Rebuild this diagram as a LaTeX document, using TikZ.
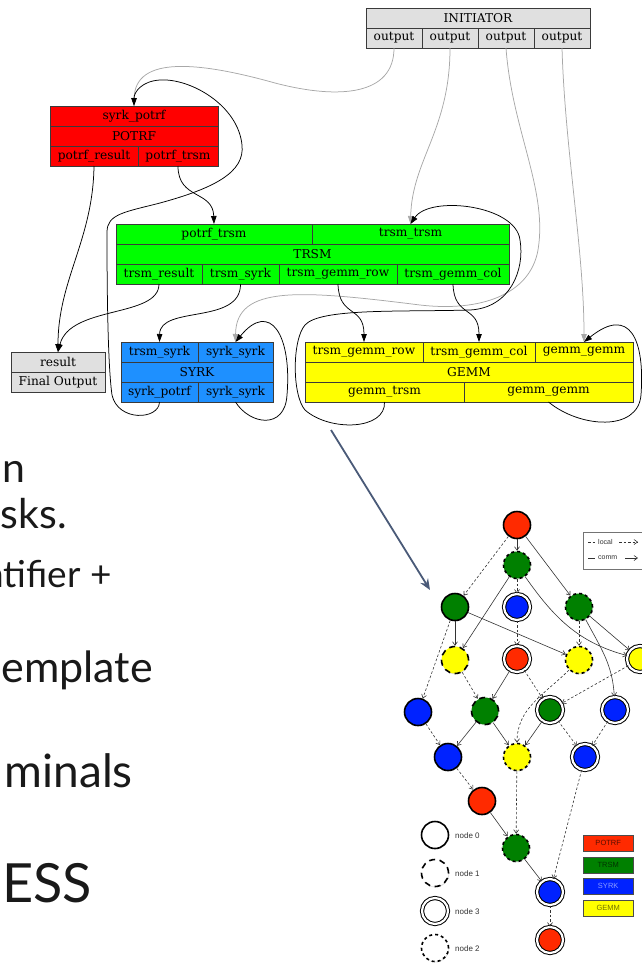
\documentclass[tikz,border=0pt]{standalone}
\usepackage{fontspec}
\setmainfont{DejaVu Serif}
\newfontfamily\slidefont{Lato}
\newfontfamily\legendfont{Liberation Sans}
\usetikzlibrary{arrows.meta,shadows}

\definecolor{potrfc}{HTML}{FF0000}
\definecolor{trsmc}{HTML}{00FF00}
\definecolor{syrkc}{HTML}{1E90FF}
\definecolor{gemmc}{HTML}{FFFF00}
\definecolor{greyc}{HTML}{E0E0E0}
\definecolor{cellline}{HTML}{3A3A3A}
\definecolor{edgegrey}{HTML}{A8A8A8}
\definecolor{pointer}{HTML}{4A5A78}
\definecolor{dagred}{HTML}{FF2A00}
\definecolor{daggreen}{HTML}{008000}
\definecolor{dagblue}{HTML}{0022FF}
\definecolor{dagyellow}{HTML}{FFFF00}
\definecolor{dagline}{HTML}{333333}

\tikzset{
  cell/.style={draw=cellline, line width=0.75pt, inner sep=0pt, outer sep=0pt,
    minimum height=20pt, anchor=north west, font=\fontsize{12.2}{13}\selectfont},
  gvedge/.style={draw=black, line width=0.75pt, -{Triangle[length=8pt,width=5.5pt]}},
  gvgrey/.style={gvedge, draw=edgegrey},
  task/.style={circle, inner sep=0pt, minimum size=27pt,
    drop shadow={shadow xshift=0.7pt, shadow yshift=-0.9pt, opacity=0.25}},
  rank0/.style={task, draw=black, line width=1.6pt},
  rank1/.style={task, draw=black, line width=1.6pt, dash pattern=on 6pt off 4.5pt},
  rank2/.style={task, draw=black, line width=1.6pt, dash pattern=on 3pt off 3pt},
  rank3/.style={task, minimum size=26pt, draw=black, line width=1pt, double=white, double distance=2.2pt},
  comm/.style={draw=dagline, line width=0.6pt, -{Straight Barb[length=3.5pt,width=5pt]}},
  local/.style={comm, dash pattern=on 2.5pt off 2pt},
  slide/.style={anchor=base east, inner sep=0pt, text=black!90},
  kind/.style={draw=black!70, line width=0.4pt, minimum width=50pt, minimum height=15.5pt,
    inner sep=0pt, anchor=north west, font=\legendfont\fontsize{7.5}{8}\selectfont,
    drop shadow={shadow xshift=1pt, shadow yshift=-1pt, opacity=0.3}},
  caption/.style={anchor=west, inner sep=0pt, font=\legendfont\fontsize{8}{9}\selectfont, text=black!80}
}

\begin{document}
\begin{tikzpicture}[x=1pt,y=-1pt]
\useasboundingbox (0,0) rectangle (642,964);

% ---------------- task-class graph ----------------
% INITIATOR
\node[cell, fill=greyc, minimum width=224pt] (init) at (366,8) {INITIATOR};
\node[cell, fill=greyc, minimum width=56pt] (out1) at (366,28) {output};
\node[cell, fill=greyc, minimum width=56pt] (out2) at (422,28) {output};
\node[cell, fill=greyc, minimum width=56pt] (out3) at (478,28) {output};
\node[cell, fill=greyc, minimum width=56pt] (out4) at (534,28) {output};

% POTRF
\node[cell, fill=potrfc, minimum width=168pt] (potrfin) at (50,106) {syrk\_potrf};
\node[cell, fill=potrfc, minimum width=168pt] (potrfname) at (50,126) {POTRF};
\node[cell, fill=potrfc, minimum width=88pt] (potrfres) at (50,146) {potrf\_result};
\node[cell, fill=potrfc, minimum width=80pt] (potrftrsm) at (138,146) {potrf\_trsm};

% TRSM
\node[cell, fill=trsmc, minimum width=196pt] (trsmin1) at (116,224) {potrf\_trsm};
\node[cell, fill=trsmc, minimum width=197pt] (trsmin2) at (312,224) {trsm\_trsm};
\node[cell, fill=trsmc, minimum width=393pt] (trsmname) at (116,244) {TRSM};
\node[cell, fill=trsmc, minimum width=86pt] (trsmo1) at (116,264) {trsm\_result};
\node[cell, fill=trsmc, minimum width=77pt] (trsmo2) at (202,264) {trsm\_syrk};
\node[cell, fill=trsmc, minimum width=118pt] (trsmo3) at (279,264) {trsm\_gemm\_row};
\node[cell, fill=trsmc, minimum width=112pt] (trsmo4) at (397,264) {trsm\_gemm\_col};

% result
\node[cell, fill=greyc, minimum width=94pt] (result) at (11,352) {result};
\node[cell, fill=greyc, minimum width=94pt] (final) at (11,372) {Final Output};

% SYRK
\node[cell, fill=syrkc, minimum width=77pt] (syrki1) at (121,342) {trsm\_syrk};
\node[cell, fill=syrkc, minimum width=75pt] (syrki2) at (198,342) {syrk\_syrk};
\node[cell, fill=syrkc, minimum width=152pt] (syrkname) at (121,362) {SYRK};
\node[cell, fill=syrkc, minimum width=77pt] (syrko1) at (121,382) {syrk\_potrf};
\node[cell, fill=syrkc, minimum width=75pt] (syrko2) at (198,382) {syrk\_syrk};

% GEMM
\node[cell, fill=gemmc, minimum width=118pt] (gemmi1) at (305,342) {trsm\_gemm\_row};
\node[cell, fill=gemmc, minimum width=112pt] (gemmi2) at (423,342) {trsm\_gemm\_col};
\node[cell, fill=gemmc, minimum width=98pt] (gemmi3) at (535,342) {gemm\_gemm};
\node[cell, fill=gemmc, minimum width=328pt] (gemmname) at (305,362) {GEMM};
\node[cell, fill=gemmc, minimum width=159pt] (gemmo1) at (305,382) {gemm\_trsm};
\node[cell, fill=gemmc, minimum width=169pt] (gemmo2) at (464,382) {gemm\_gemm};

% flows from the initiator (grey)
\draw[gvgrey] (out1.south) .. controls (394,95) and (340,100) .. (275,83)
  .. controls (200,62) and (135,55) .. (potrfin.north);
\draw[gvgrey] (out2.south) .. controls (450,130) and (412,160) .. (trsmin2.north);
\draw[gvgrey] (out3.south) .. controls (512,130) and (548,190) .. (538,250)
  .. controls (530,295) and (480,312) .. (420,305)
  .. controls (300,290) and (236,285) .. (syrki2.north);
\draw[gvgrey] (out4.south) .. controls (565,150) and (584,250) .. (gemmi3.north);

% data flows between task classes
\draw[gvedge] (potrftrsm.south) .. controls (178,200) and (213,190) .. (trsmin1.north);
\draw[gvedge] (potrfres.south) .. controls (93,240) and (58,280) .. (result.north);
\draw[gvedge] (trsmo1.south) .. controls (159,318) and (70,305) .. (result.north);
\draw[gvedge] (trsmo2.south) .. controls (241,325) and (160,305) .. (syrki1.north);
\draw[gvedge] (trsmo3.south) .. controls (339,318) and (364,305) .. (gemmi1.north);
\draw[gvedge] (trsmo4.south) .. controls (454,318) and (479,305) .. (gemmi2.north);
\draw[gvedge] (syrko1.south) .. controls (159,420) and (118,422) .. (112,395)
  .. controls (107,360) and (107,260) .. (107,232)
  .. controls (107,214) and (125,212) .. (160,203)
  .. controls (215,188) and (245,172) .. (242,145)
  .. controls (238,105) and (190,78) .. (160,80)
  .. controls (142,81) and (134,92) .. (potrfin.north);
\draw[gvedge] (syrko2.south) .. controls (250,425) and (285,430) .. (287,395)
  .. controls (292,335) and (270,300) .. (syrki2.north);
\draw[gvedge] (gemmo1.south) .. controls (386,430) and (330,432) .. (305,410)
  .. controls (292,395) and (292,340) .. (305,325)
  .. controls (320,308) and (400,312) .. (470,310)
  .. controls (510,308) and (525,270) .. (520,240)
  .. controls (516,205) and (430,195) .. (trsmin2.north);
\draw[gvedge] (gemmo2.south) .. controls (580,428) and (638,432) .. (641,395)
  .. controls (645,340) and (630,305) .. (gemmi3.north);

% ---------------- pointer to the unrolled DAG ----------------
\coordinate (ptrfrom) at (331,430);
\coordinate (ptrto) at (430,590);
\draw[pointer, line width=1.8pt, -{Stealth[length=11pt,width=9pt]}] (ptrfrom) -- (ptrto);

% ---------------- slide text ----------------
\node[slide, font=\slidefont\fontsize{41}{44}\selectfont] (t1) at (26,482) {an};
\node[slide, font=\slidefont\fontsize{41}{44}\selectfont] (t2) at (67,528) {sks.};
\node[slide, font=\slidefont\fontsize{37}{40}\selectfont] (t3) at (112,587) {ntifier +};
\node[slide, font=\slidefont\fontsize{43}{46}\selectfont] (t4) at (153,682) {emplate};
\node[slide, font=\slidefont\fontsize{46}{48}\selectfont] (t5) at (133,787) {minals};
\node[slide, font=\slidefont\fontsize{54}{56}\selectfont] (t6) at (92,902) {ESS};

% ---------------- unrolled task DAG ----------------
\node[rank0, fill=dagred] (A) at (517,525) {};
\node[rank2, fill=daggreen] (B) at (517,565) {};
\node[rank0, fill=daggreen] (C) at (455,607) {};
\node[rank3, fill=dagblue] (D) at (517,607) {};
\node[rank2, fill=daggreen] (E) at (579,607) {};
\node[rank1, fill=dagyellow] (F) at (455,660) {};
\node[rank3, fill=dagred] (H) at (517,659) {};
\node[rank2, fill=dagyellow] (G) at (579,660) {};
\node[rank3, fill=dagyellow] (I) at (640,659) {};
\node[rank0, fill=dagblue] (J) at (418,712) {};
\node[rank1, fill=daggreen] (K) at (485,711) {};
\node[rank3, fill=daggreen] (L) at (550,710) {};
\node[rank3, fill=dagblue] (M) at (615,710) {};
\node[rank0, fill=dagblue] (N) at (448,757) {};
\node[rank2, fill=dagyellow] (O) at (517,757) {};
\node[rank3, fill=dagblue] (P) at (585,757) {};
\node[rank0, fill=dagred] (Q) at (482,801) {};
\node[rank2, fill=daggreen] (R) at (516,848) {};
\node[rank3, fill=dagblue] (S) at (550,892) {};
\node[rank3, fill=dagred] (T) at (550,940) {};

\draw[comm] (A) -- (B);
\draw[local] (A) -- (C);
\draw[comm] (A) -- (E);
\draw[local] (B) -- (D);
\draw[comm] (B) -- (F);
\draw[comm] (B) to[out=-55, in=165] (I);
\draw[comm] (C) -- (F);
\draw[comm] (C) -- (G);
\draw[local] (C) -- (J);
\draw[local] (D) -- (H);
\draw[local] (E) -- (G);
\draw[comm] (E) -- (I);
\draw[comm] (E) to[out=-62, in=93] (M);
\draw[local] (F) -- (K);
\draw[comm] (H) -- (K);
\draw[local] (H) -- (L);
\draw[local] (G) to[out=-135, in=90] (O);
\draw[local] (I) -- (L);
\draw[local] (J) -- (N);
\draw[comm] (K) -- (N);
\draw[comm] (K) -- (O);
\draw[comm] (L) -- (O);
\draw[local] (L) -- (P);
\draw[local] (M) -- (P);
\draw[local] (N) -- (Q);
\draw[local] (O) -- (R);
\draw[local] (P) -- (S);
\draw[comm] (Q) -- (R);
\draw[comm] (R) -- (S);
\draw[local] (S) -- (T);

% edge legend
\node[draw=black!55, fill=white, line width=0.5pt, minimum width=80pt, minimum height=37pt,
  anchor=north west, inner sep=0pt,
  drop shadow={shadow xshift=1.2pt, shadow yshift=-1.2pt, opacity=0.3}] (edgekey) at (583,532) {};
\node[caption, font=\legendfont\fontsize{7}{8}\selectfont] (lbllocal) at (598,542) {local};
\node[caption, font=\legendfont\fontsize{7}{8}\selectfont] (lblcomm) at (598,558) {comm};
\coordinate (lk1) at (588,542); \coordinate (lk2) at (596,542);
\coordinate (lk3) at (619,542); \coordinate (lk4) at (638,542);
\coordinate (ck1) at (588,558); \coordinate (ck2) at (595,558);
\coordinate (ck3) at (625,558); \coordinate (ck4) at (638,558);
\draw[dagline, line width=0.6pt, dash pattern=on 2.5pt off 2pt] (lk1) -- (lk2);
\draw[local] (lk3) -- (lk4);
\draw[dagline, line width=0.6pt] (ck1) -- (ck2);
\draw[comm] (ck3) -- (ck4);

% rank legend
\node[rank0, fill=white] (key0) at (435,835) {};
\node[rank1, fill=white] (key1) at (435,873) {};
\node[rank3, fill=white] (key3) at (435,911) {};
\node[rank2, fill=white] (key2) at (435,948) {};
\node[caption] (lbl0) at (455,836) {node 0};
\node[caption] (lbl1) at (455,874) {node 1};
\node[caption] (lbl3) at (455,912) {node 3};
\node[caption] (lbl2) at (455,949) {node 2};

% task class legend
\node[kind, fill=dagred, text=black!65!dagred] (kpotrf) at (583,835) {POTRF};
\node[kind, fill=daggreen, text=black!60!daggreen] (ktrsm) at (583,857) {TRSM};
\node[kind, fill=dagblue, text=white!55!dagblue] (ksyrk) at (583,878) {SYRK};
\node[kind, fill=dagyellow, text=black!55!dagyellow] (kgemm) at (583,900) {GEMM};

\end{tikzpicture}
\end{document}
